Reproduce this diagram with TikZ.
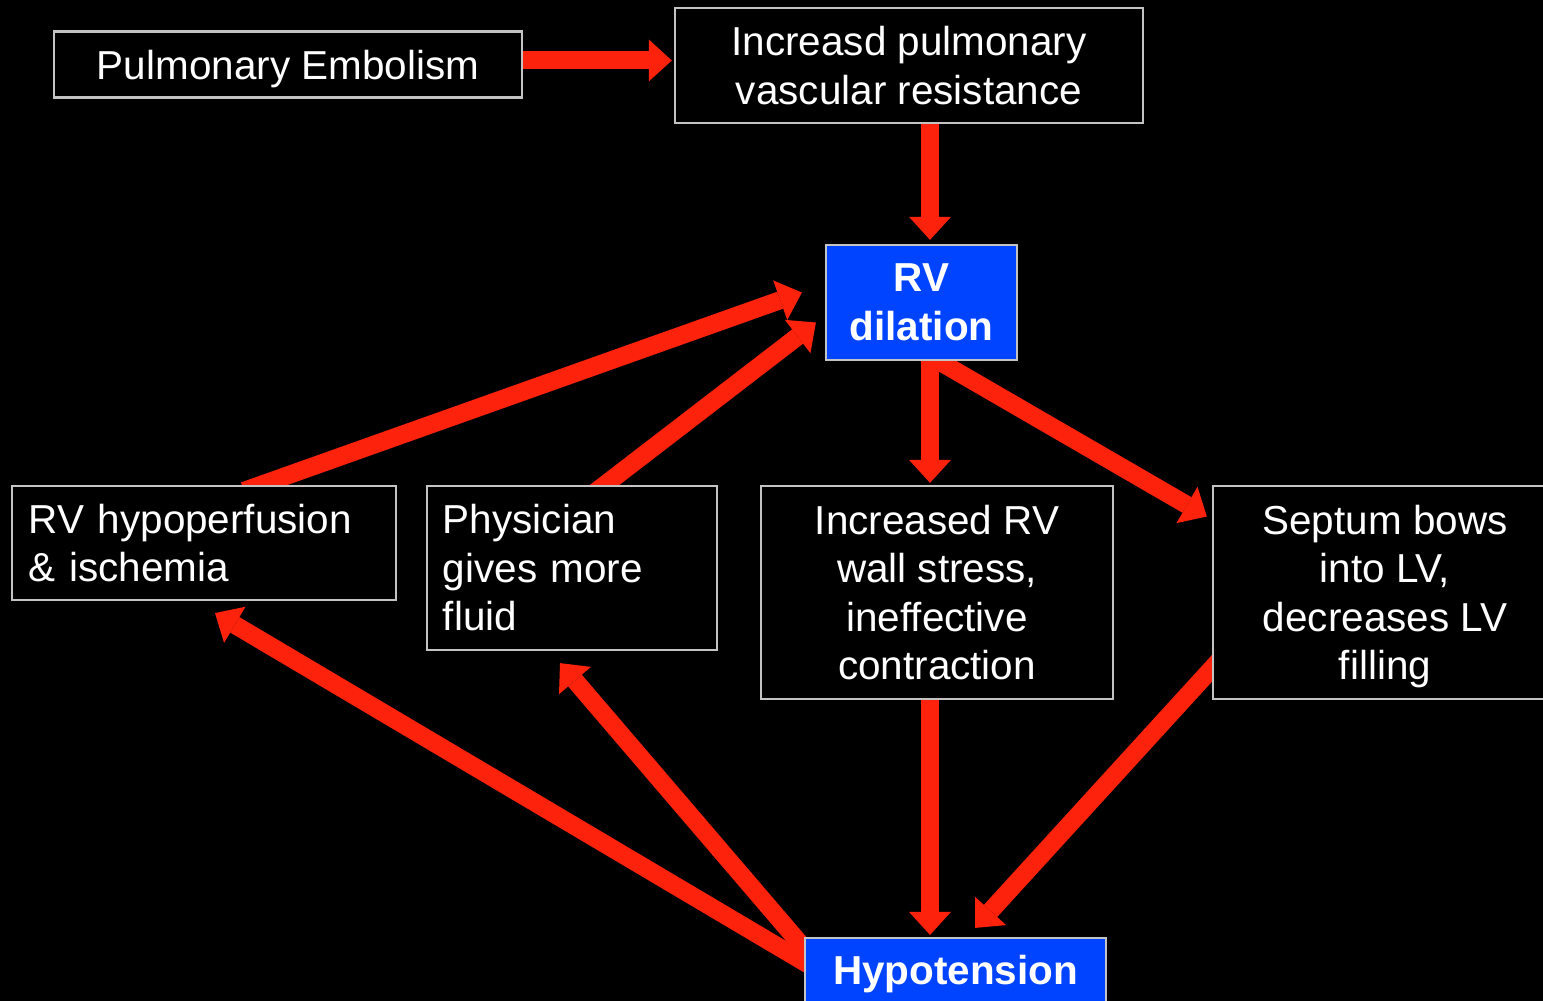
\documentclass[tikz,border=0pt]{standalone}
\usepackage{fontspec}
\setmainfont{Liberation Sans}
\usetikzlibrary{arrows.meta,calc}
\pgfdeclarelayer{background}
\pgfsetlayers{background,main}
\definecolor{boxblue}{RGB}{0,68,255}
\definecolor{arrowred}{RGB}{252,34,12}
\definecolor{edgegray}{RGB}{195,195,195}

\begin{document}
\begin{tikzpicture}[x=0.01cm,y=-0.01cm]
    \tikzstyle{box}=[rectangle,draw=edgegray,line width=0.6pt,fill=black,text=white,inner sep=0pt,font=\fontsize{11.5}{13.8}\selectfont]
    \tikzstyle{bluebox}=[box,fill=boxblue,font=\fontsize{11.5}{13.8}\selectfont\bfseries]
    \tikzstyle{link}=[draw=arrowred,line width=0.18cm,-{Triangle[width=0.42cm,length=0.23cm,line width=0pt]}]
    \clip (0,0) rectangle (1543,1001);
    \begin{pgfonlayer}{background}
        \fill[black] (0,0) rectangle (1543,1001);
    \end{pgfonlayer}

    \node[box,minimum width=4.68cm,minimum height=0.66cm,text depth=0pt] (pe) at (288,64.5) {Pulmonary Embolism};
    \node[box,minimum width=4.68cm,minimum height=1.15cm,align=center] (pvr) at (909,65.5) {Increasd pulmonary\\vascular resistance};
    \node[bluebox,minimum width=1.91cm,minimum height=1.15cm,align=center] (rv) at (921.5,302.5) {RV\\dilation};

    \node[box,minimum width=3.84cm,minimum height=1.14cm,text width=3.50cm,align=left] (hypo) at (204,543) {RV hypoperfusion\\\& ischemia};
    \node[box,minimum width=2.90cm,minimum height=1.64cm,text width=2.58cm,align=left] (fluid) at (572,568) {Physician\\gives more\\fluid};
    \node[box,minimum width=3.52cm,minimum height=2.13cm,align=center] (stress) at (937,592.5) {Increased RV\\wall stress,\\ineffective\\contraction};
    \node[box,minimum width=3.44cm,minimum height=2.13cm,align=center,text depth=0pt] (septum) at (1385,592.5) {Septum bows\\into LV,\\decreases LV\\filling};

    \node[bluebox,minimum width=3.01cm,minimum height=0.72cm] (hypot) at (955.5,974) {Hypotension};

    \begin{pgfonlayer}{background}
    % top chain
    \draw[link] ($(pe.east)+(-5,-4)$) -- ($(pvr.west)+(-2,-5)$);
    \draw[link] ($(pvr.south)+(21,-5)$) -- ($(rv.north)+(8.5,-4)$);
    \draw[link] ($(rv.south)+(8.5,-5)$) -- ($(stress.north)+(-7,-2)$);
    \draw[link] ($(rv.south)+(8.5,-5)$) -- ($(septum.west)+(-5,-76)$);

    % back to RV dilation
    \draw[link] ($(hypo.north)+(40,6)$) -- ($(rv.west)+(-23,-10)$);
    \draw[link] ($(fluid.north)+(21,9)$) -- ($(rv.west)+(-9,20)$);

    % down to hypotension
    \draw[link] ($(stress.south)+(-7,-5)$) -- ($(hypot.north)+(-25.5,-2)$);
    \draw[link] ($(septum.west)+(10,65)$) -- ($(hypot.north)+(19.5,-9)$);

    % hypotension feeds back
    \draw[link] ($(hypot.west)+(12,-5)$) -- ($(hypo.south)+(11,12)$);
    \draw[link] ($(hypot.north west)+(6,18)$) -- ($(fluid.south)+(-12,12)$);
    \end{pgfonlayer}
\end{tikzpicture}
\end{document}
